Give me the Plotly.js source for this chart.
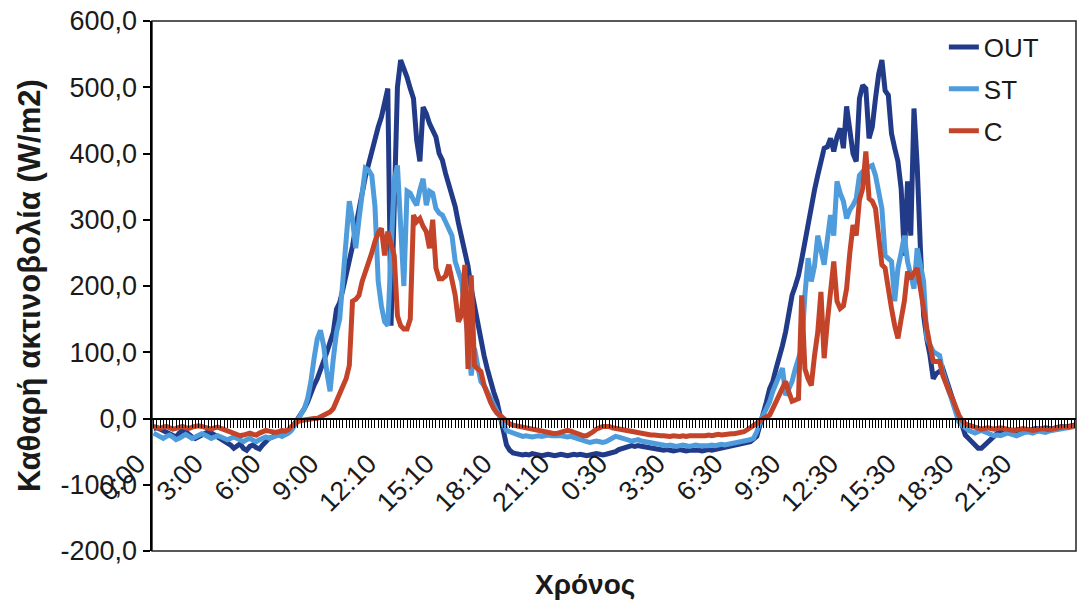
<!DOCTYPE html>
<html><head><meta charset="utf-8">
<script src="https://cdn.plot.ly/plotly-3.0.1.min.js"></script>
<style>html,body{margin:0;padding:0;background:#fff}#chart{width:1079px;height:604px}</style>
</head><body><div id="chart"></div>
<script>
// Time tick labels (one label every 18 ten-minute samples)
const timeLabels = ['0:00','3:00','6:00','9:00','12:10','15:10','18:10','21:10','0:30','3:30','6:30','9:30','12:30','15:30','18:30','21:30'];
const labelEvery = 18;

const yTickVals = [-200,-100,0,100,200,300,400,500,600];
const yTickText = ['-200,0','-100,0','0,0','100,0','200,0','300,0','400,0','500,0','600,0'];

const seriesNames = ['OUT','ST','C'];

const OUT = [
-15,-14,-16,-18,-20,-22,-25,-28,-22,-18,-20,-25,
-28,-30,-28,-25,-22,-20,-22,-25,-28,-30,-32,-35,
-40,-45,-42,-38,-45,-48,-42,-40,-44,-46,-40,-35,
-30,-28,-25,-22,-20,-22,-20,-15,-8,0,8,15,
25,40,50,60,72,85,100,115,130,165,175,195,
215,237,260,290,320,340,365,385,400,420,440,455,
480,498,140,300,500,541,530,515,498,483,420,388,
470,460,445,435,425,400,390,370,355,335,320,295,
275,250,230,196,170,140,120,95,75,56,40,26,
5,-15,-40,-48,-52,-53,-54,-55,-54,-55,-53,-54,
-55,-56,-55,-54,-55,-56,-55,-54,-55,-56,-55,-54,
-55,-54,-55,-56,-55,-54,-53,-54,-55,-54,-53,-52,
-50,-47,-45,-43,-42,-41,-42,-41,-42,-43,-44,-45,
-46,-47,-48,-48,-47,-48,-49,-48,-47,-48,-49,-48,
-48,-47,-48,-49,-48,-47,-48,-47,-46,-45,-44,-43,
-42,-41,-40,-39,-38,-37,-35,-31,-27,-10,5,25,
45,56,75,91,110,131,160,186,200,216,240,267,
300,322,345,367,390,408,410,423,403,425,438,408,
471,430,400,388,483,503,498,423,440,483,520,541,
495,488,430,408,388,347,246,358,276,468,382,257,
156,120,95,60,68,71,75,60,45,25,10,0,
-10,-25,-30,-35,-42,-45,-45,-40,-35,-30,-26,-22,
-20,-18,-20,-22,-20,-18,-17,-18,-20,-18,-16,-15,
-16,-15,-14,-15,-16,-14,-13,-12,-13,-12,-11,-10
];

const ST = [
-22,-25,-28,-30,-27,-25,-28,-32,-30,-26,-24,-27,
-30,-28,-25,-23,-25,-27,-30,-28,-26,-28,-30,-32,
-30,-28,-30,-33,-35,-32,-30,-33,-35,-32,-30,-28,
-30,-28,-26,-25,-27,-25,-22,-18,-10,-2,5,15,
30,55,90,120,133,110,70,41,90,130,150,207,
280,328,300,257,300,340,378,375,367,320,207,170,
146,140,250,360,382,276,200,343,340,330,322,345,
362,322,343,340,317,310,307,297,285,276,237,220,
207,160,125,65,106,80,56,50,40,30,20,10,
3,-10,-18,-20,-22,-24,-26,-27,-26,-27,-28,-27,
-26,-27,-26,-25,-26,-26,-25,-26,-27,-28,-27,-29,
-31,-33,-34,-35,-36,-35,-34,-35,-36,-35,-33,-30,
-27,-28,-30,-32,-33,-34,-33,-32,-34,-35,-36,-37,
-38,-39,-40,-41,-41,-40,-41,-42,-41,-40,-41,-42,
-41,-40,-41,-41,-42,-41,-40,-41,-40,-39,-40,-39,
-38,-38,-37,-36,-35,-34,-32,-30,-20,-5,5,15,
25,41,55,65,76,35,45,56,75,90,106,186,
242,207,230,276,250,232,270,307,276,358,340,328,
302,315,322,332,367,372,378,380,382,367,340,317,
246,240,237,177,227,250,276,237,215,196,257,230,
207,121,110,101,98,95,70,55,41,20,5,-5,
-10,-15,-18,-20,-22,-20,-18,-20,-22,-24,-26,-25,
-26,-24,-22,-23,-25,-26,-24,-22,-20,-21,-22,-20,
-19,-20,-21,-19,-18,-17,-16,-15,-14,-13,-12,-12
];

const C = [
-12,-14,-15,-13,-12,-14,-16,-15,-13,-12,-14,-15,
-13,-12,-11,-12,-14,-15,-16,-14,-13,-15,-17,-18,
-20,-22,-24,-26,-25,-23,-22,-24,-25,-22,-20,-18,
-19,-20,-21,-20,-18,-19,-17,-12,-8,-5,-3,-2,
-2,-1,0,0,2,5,8,10,15,26,35,45,
60,80,177,180,186,207,220,232,250,267,280,287,
246,282,260,246,155,140,135,135,150,307,297,302,
290,282,257,300,227,211,211,215,232,210,186,146,
156,232,75,216,80,75,71,50,35,25,15,8,
5,0,-5,-8,-10,-11,-12,-14,-15,-16,-17,-18,
-19,-20,-21,-22,-23,-23,-22,-20,-18,-18,-19,-21,
-23,-24,-26,-26,-24,-20,-16,-13,-12,-12,-12,-14,
-15,-16,-17,-18,-19,-20,-21,-22,-23,-23,-24,-25,
-25,-26,-26,-26,-27,-27,-26,-27,-27,-26,-27,-26,
-26,-27,-26,-26,-26,-25,-26,-25,-24,-25,-24,-23,
-23,-23,-22,-21,-20,-17,-14,-12,-8,-4,0,3,
5,15,25,35,45,56,40,26,28,30,186,75,
60,50,95,130,191,91,146,200,237,177,166,170,
196,250,292,276,330,347,403,332,328,317,280,232,
227,191,166,140,121,150,177,222,211,220,227,196,
160,136,110,86,86,86,65,50,40,30,15,5,
-3,-8,-10,-12,-14,-15,-16,-15,-14,-15,-16,-15,
-14,-15,-16,-17,-18,-17,-16,-15,-16,-17,-18,-17,
-16,-15,-16,-17,-16,-15,-14,-13,-12,-13,-12,-11
];

const colors = ['#223B88','#4E9CDC','#C4442A'];
const FONT = 'Arial, "Liberation Sans", sans-serif';

const n = OUT.length;
const idx = [];
const tickVals = [];
const tickText = [];
for (let i = 0; i < n; i++) {
  idx.push(i);
  tickVals.push(i);
  tickText.push(i % labelEvery === 0 && timeLabels[i / labelEvery] !== undefined ? timeLabels[i / labelEvery] : '');
}

const data = [OUT, ST, C].map((ys, k) => ({
  type: 'scatter', mode: 'lines', x: idx, y: ys, name: seriesNames[k],
  legendgroup: seriesNames[k],
  line: {color: colors[k], width: 5}, hoverinfo: 'skip'
}));

const layout = {
  width: 1079, height: 604,
  margin: {l: 152, r: 3, t: 21, b: 53},
  paper_bgcolor: '#fff', plot_bgcolor: '#fff',
  font: {family: FONT, color: '#1a1a1a'},
  showlegend: true,
  legend: {x: 0.857, y: 0.995, xanchor: 'left', yanchor: 'top',
    font: {family: FONT, size: 26, color: '#1a1a1a'}, tracegroupgap: 5,
    bgcolor: 'rgba(0,0,0,0)'},
  xaxis: {
    range: [-0.5, n - 0.5], anchor: 'free', position: 0.25,
    tickmode: 'array', tickvals: tickVals, ticktext: tickText,
    tickangle: -45, ticks: 'outside', ticklen: 8, tickwidth: 1, tickcolor: '#000',
    ticklabelstandoff: 9, ticklabelshift: -16,
    tickfont: {family: FONT, size: 27, color: '#1a1a1a'},
    showline: true, linecolor: '#000', linewidth: 2.5,
    showgrid: false, zeroline: false, fixedrange: true
  },
  yaxis: {
    range: [-200, 600], tickmode: 'array', tickvals: yTickVals, ticktext: yTickText,
    ticks: 'outside', ticklen: 7, tickwidth: 2, tickcolor: '#000',
    tickfont: {family: FONT, size: 27, color: '#1a1a1a'},
    showline: true, linecolor: '#000', linewidth: 2.5,
    showgrid: false, zeroline: false, fixedrange: true
  },
  shapes: [{type: 'rect', xref: 'paper', yref: 'paper', x0: 0, x1: 1, y0: 0, y1: 1,
    line: {color: '#222', width: 1.5}, layer: 'below'}],
  annotations: [
    {text: '<b>Καθαρή ακτινοβολία (W/m2)</b>', xref: 'paper', yref: 'paper',
     x: -0.133, y: 0.5, xanchor: 'center', yanchor: 'middle', textangle: -90,
     showarrow: false, font: {family: FONT, size: 31, color: '#1a1a1a'}},
    {text: '<b>Χρόνος</b>', xref: 'paper', yref: 'paper',
     x: 0.4686, y: -0.064, xanchor: 'center', yanchor: 'middle',
     showarrow: false, font: {family: FONT, size: 28, color: '#1a1a1a'}}
  ]
};

Plotly.newPlot('chart', data, layout, {staticPlot: true, displayModeBar: false});
</script>
</body></html>
